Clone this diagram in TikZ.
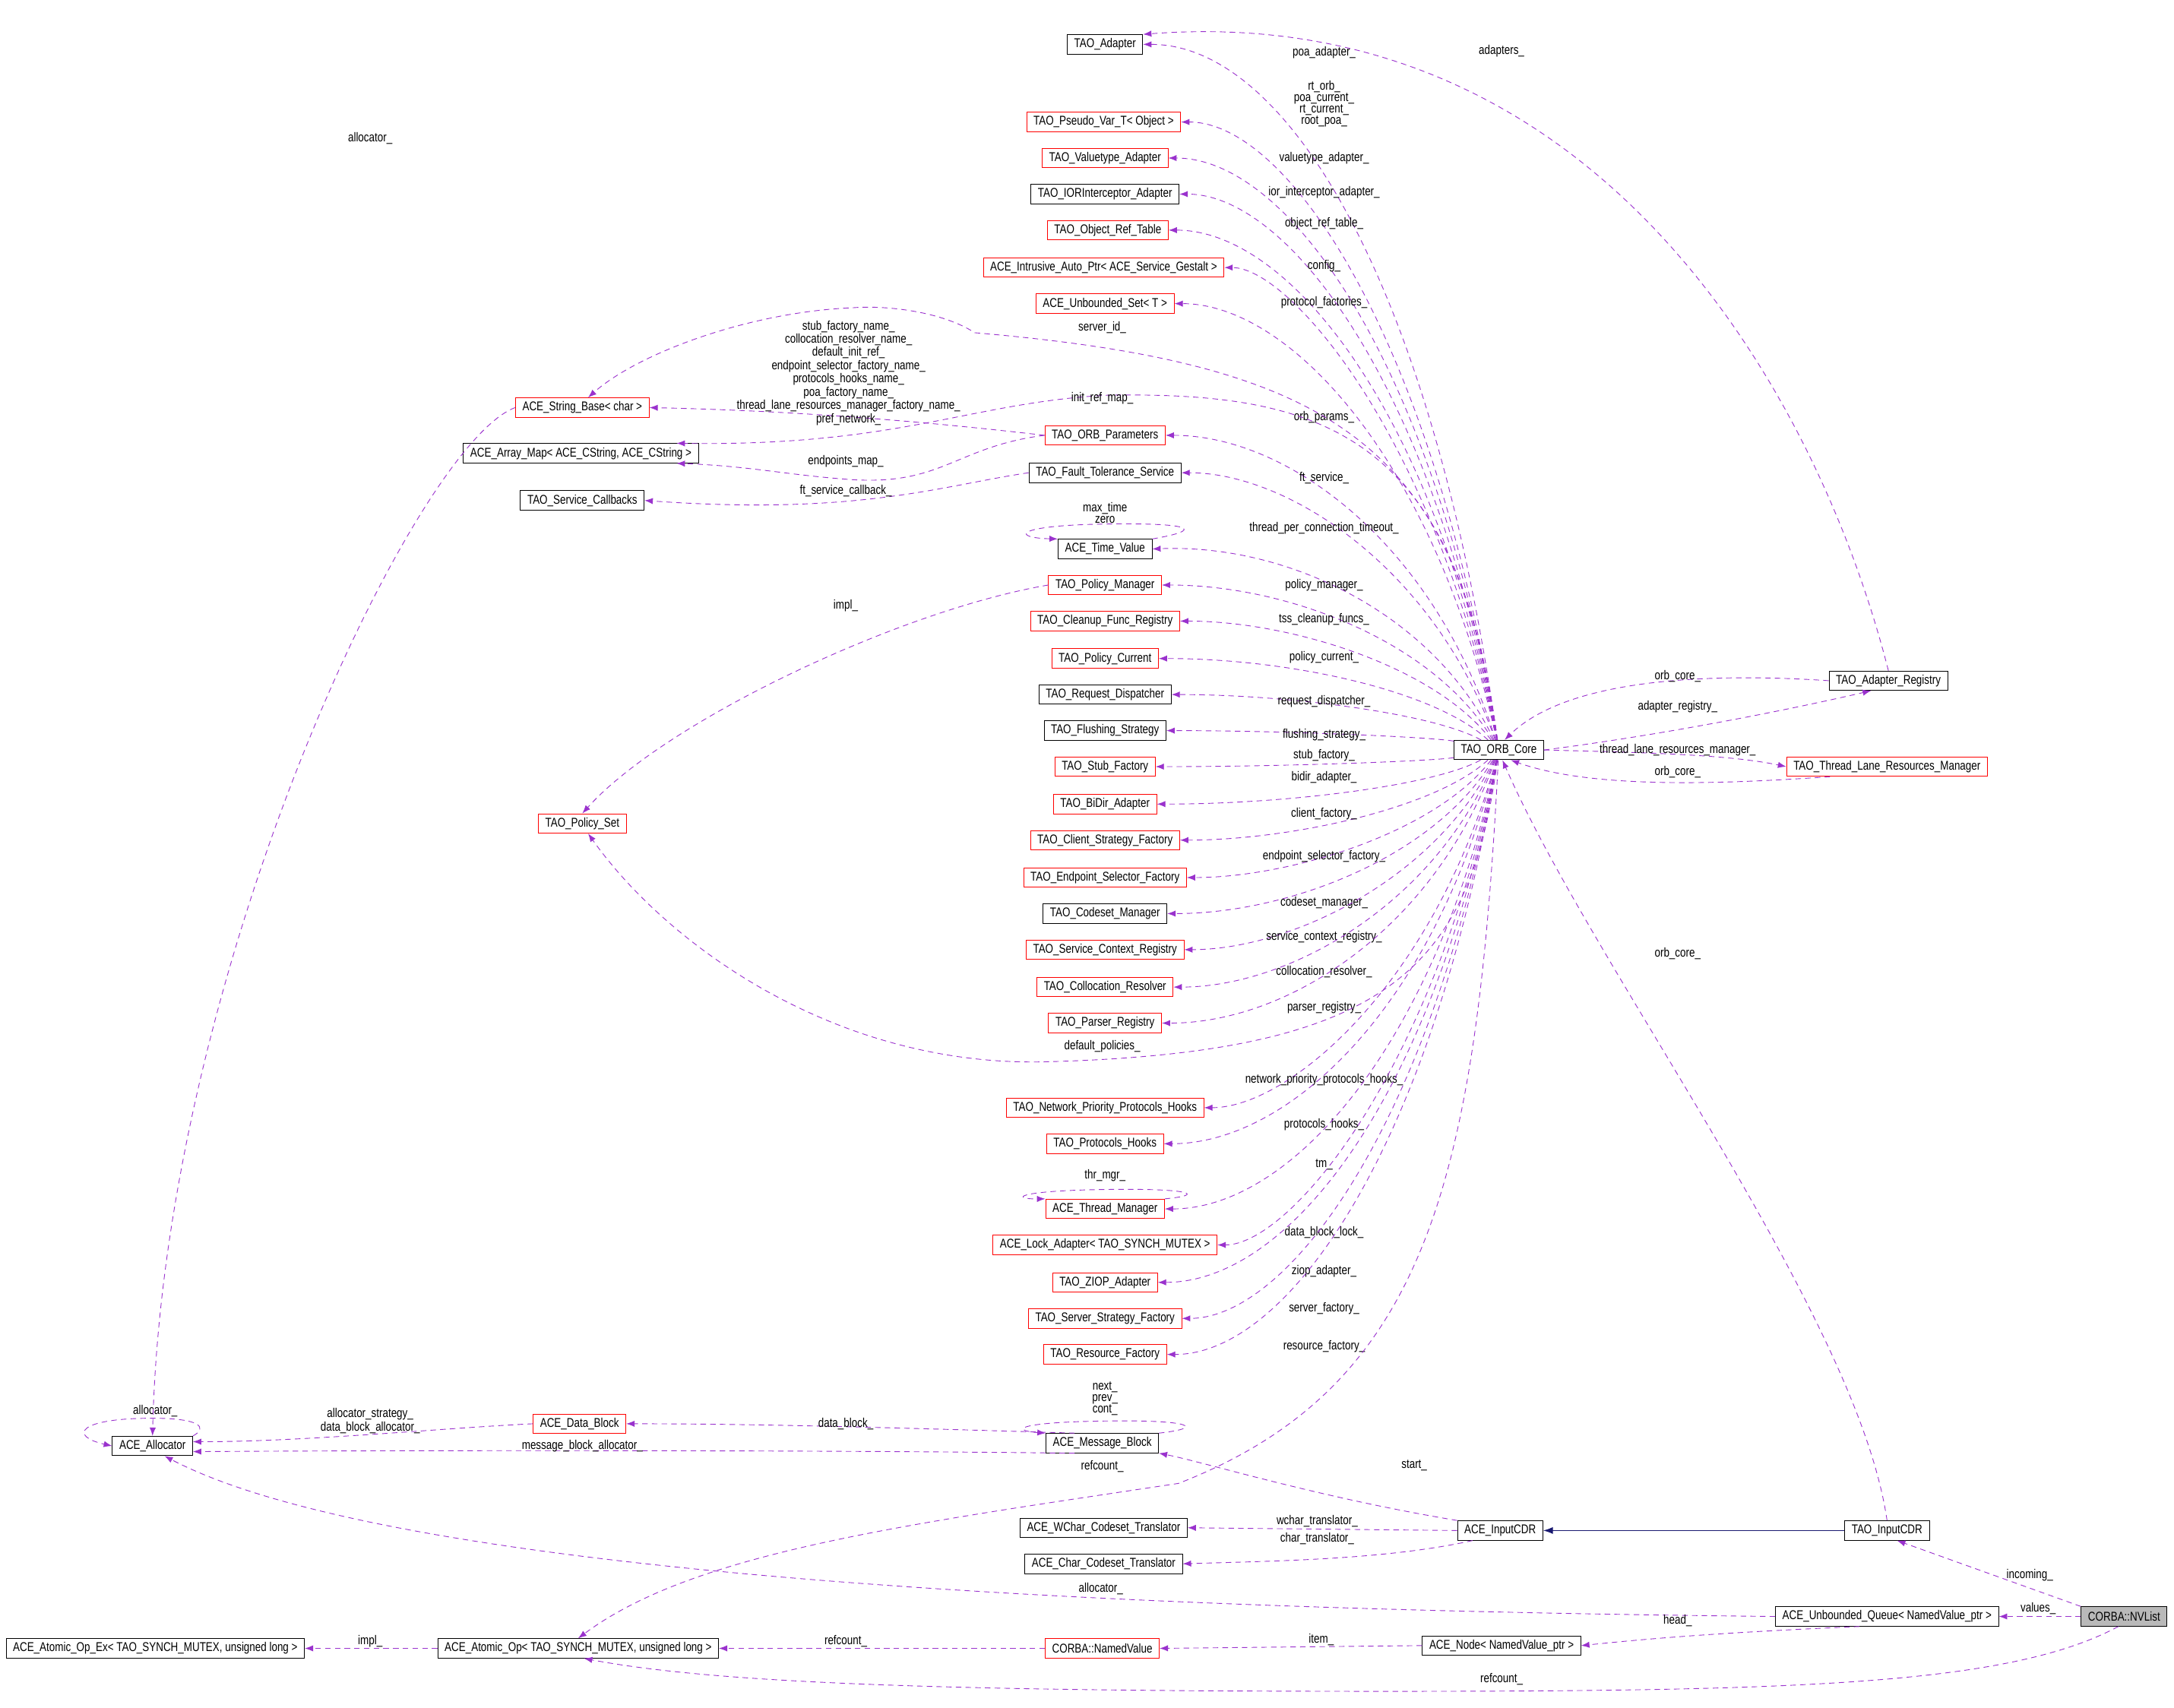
\documentclass[tikz,border=0pt]{standalone}
\usepackage{fontspec}
\setmainfont{Liberation Sans}[FakeStretch=0.8]
\usetikzlibrary{arrows.meta}
\definecolor{pur}{HTML}{9A32CD}
\definecolor{nav}{HTML}{191970}
\tikzset{
 bx/.style={draw=black,line width=0.5pt,minimum height=14pt,inner xsep=5pt,inner ysep=0pt,font=\fontsize{9.2}{8.2}\selectfont},
 rbx/.style={bx,draw=red},
 gbx/.style={bx,fill=gray!55},
 e/.style={draw=pur,dash pattern=on 4pt off 3pt,line width=0.5pt,-{Latex[length=6pt,width=4.5pt]}},
 lbl/.style={inner sep=0pt,align=center,font=\fontsize{9.2}{8.2}\selectfont}
}
\newcommand\ce[4]{\draw[e] (core) .. controls (1035,{#2+(541-#2)*0.35}) and (930,#2) .. (#1.east); \node[lbl] at (955,#3) {#4};}
\begin{document}
\begin{tikzpicture}[x=1pt,y=-1pt]
\useasboundingbox (0,0) rectangle (1568,1232);
% center column
\node[bx] (ta) at (797,32) {TAO\_Adapter};
\node[rbx] (pv) at (796,88) {TAO\_Pseudo\_Var\_T< Object >};
\node[rbx] (va) at (797,114) {TAO\_Valuetype\_Adapter};
\node[bx] (ior) at (797,140) {TAO\_IORInterceptor\_Adapter};
\node[rbx] (ort) at (799,166) {TAO\_Object\_Ref\_Table};
\node[rbx] (iap) at (796,193) {ACE\_Intrusive\_Auto\_Ptr< ACE\_Service\_Gestalt >};
\node[rbx] (us) at (797,219) {ACE\_Unbounded\_Set< T >};
\node[rbx] (op) at (797,314) {TAO\_ORB\_Parameters};
\node[bx] (ft) at (797,341) {TAO\_Fault\_Tolerance\_Service};
\node[bx] (tv) at (797,396) {ACE\_Time\_Value};
\node[rbx] (pm) at (797,422) {TAO\_Policy\_Manager};
\node[rbx] (cf) at (797,448) {TAO\_Cleanup\_Func\_Registry};
\node[rbx] (pc) at (797,475) {TAO\_Policy\_Current};
\node[bx] (rd) at (797,501) {TAO\_Request\_Dispatcher};
\node[bx] (fs) at (797,527) {TAO\_Flushing\_Strategy};
\node[rbx] (sf) at (797,553) {TAO\_Stub\_Factory};
\node[rbx] (bd) at (797,580) {TAO\_BiDir\_Adapter};
\node[rbx] (csf) at (797,606) {TAO\_Client\_Strategy\_Factory};
\node[rbx] (esf) at (797,633) {TAO\_Endpoint\_Selector\_Factory};
\node[bx] (cm) at (797,659) {TAO\_Codeset\_Manager};
\node[rbx] (scr) at (797,685) {TAO\_Service\_Context\_Registry};
\node[rbx] (cr) at (797,712) {TAO\_Collocation\_Resolver};
\node[rbx] (pr) at (797,738) {TAO\_Parser\_Registry};
\node[rbx] (npph) at (797,799) {TAO\_Network\_Priority\_Protocols\_Hooks};
\node[rbx] (ph) at (797,825) {TAO\_Protocols\_Hooks};
\node[rbx] (tm) at (797,872) {ACE\_Thread\_Manager};
\node[rbx] (la) at (797,898) {ACE\_Lock\_Adapter< TAO\_SYNCH\_MUTEX >};
\node[rbx] (zi) at (797,925) {TAO\_ZIOP\_Adapter};
\node[rbx] (ssf) at (797,951) {TAO\_Server\_Strategy\_Factory};
\node[rbx] (rf) at (797,977) {TAO\_Resource\_Factory};
\node[bx] (mb) at (795,1041) {ACE\_Message\_Block};
\node[bx] (wc) at (796,1102) {ACE\_WChar\_Codeset\_Translator};
\node[bx] (cc) at (796,1128) {ACE\_Char\_Codeset\_Translator};
\node[rbx] (nvd) at (795,1189) {CORBA::NamedValue};
% left
\node[rbx] (sb) at (420,294) {ACE\_String\_Base< char >};
\node[bx] (am) at (419,327) {ACE\_Array\_Map< ACE\_CString, ACE\_CString >};
\node[bx] (scb) at (420,361) {TAO\_Service\_Callbacks};
\node[rbx] (ps) at (420,594) {TAO\_Policy\_Set};
\node[bx] (al) at (110,1043) {ACE\_Allocator};
\node[rbx] (db) at (418,1027) {ACE\_Data\_Block};
\node[bx] (ao) at (417,1189) {ACE\_Atomic\_Op< TAO\_SYNCH\_MUTEX, unsigned long >};
\node[bx] (aoex) at (112,1189) {ACE\_Atomic\_Op\_Ex< TAO\_SYNCH\_MUTEX, unsigned long >};
% right
\node[bx] (core) at (1081,541) {TAO\_ORB\_Core};
\node[bx] (ar) at (1362,491) {TAO\_Adapter\_Registry};
\node[rbx] (tl) at (1361,553) {TAO\_Thread\_Lane\_Resources\_Manager};
\node[bx] (icdr) at (1082,1104) {ACE\_InputCDR};
\node[bx] (tcdr) at (1361,1104) {TAO\_InputCDR};
\node[bx] (nd) at (1083,1187) {ACE\_Node< NamedValue\_ptr >};
\node[bx] (q) at (1361,1166) {ACE\_Unbounded\_Queue< NamedValue\_ptr >};
\node[gbx] (nv) at (1532,1166) {CORBA::NVList};
% core edges
\ce{ta}{32}{38}{poa\_adapter\_}
\ce{pv}{88}{75}{rt\_orb\_\\poa\_current\_\\rt\_current\_\\root\_poa\_}
\ce{va}{114}{114}{valuetype\_adapter\_}
\ce{ior}{140}{139}{ior\_interceptor\_adapter\_}
\ce{ort}{166}{161}{object\_ref\_table\_}
\ce{iap}{193}{192}{config\_}
\ce{us}{219}{218}{protocol\_factories\_}
\ce{op}{314}{301}{orb\_params\_}
\ce{ft}{341}{345}{ft\_service\_}
\ce{tv}{392}{381}{thread\_per\_connection\_timeout\_}
\ce{pm}{422}{422}{policy\_manager\_}
\ce{cf}{448}{447}{tss\_cleanup\_funcs\_}
\ce{pc}{475}{474}{policy\_current\_}
\ce{rd}{501}{506}{request\_dispatcher\_}
\ce{fs}{527}{530}{flushing\_strategy\_}
\ce{sf}{553}{545}{stub\_factory\_}
\ce{bd}{580}{561}{bidir\_adapter\_}
\ce{csf}{606}{587}{client\_factory\_}
\ce{esf}{633}{618}{endpoint\_selector\_factory\_}
\ce{cm}{659}{651}{codeset\_manager\_}
\ce{scr}{685}{676}{service\_context\_registry\_}
\ce{cr}{712}{701}{collocation\_resolver\_}
\ce{pr}{738}{727}{parser\_registry\_}
\ce{npph}{799}{779}{network\_priority\_protocols\_hooks\_}
\ce{ph}{825}{811}{protocols\_hooks\_}
\ce{tm}{872}{840}{tm\_}
\ce{la}{898}{889}{data\_block\_lock\_}
\ce{zi}{925}{917}{ziop\_adapter\_}
\ce{ssf}{951}{944}{server\_factory\_}
\ce{rf}{977}{971}{resource\_factory\_}
% special edges
\draw[e] (core) .. controls (1050,320) and (960,262) .. (703,240) .. controls (680,225) and (640,220) .. (615,222) .. controls (540,225) and (460,255) .. (sb.60);
\node[lbl] at (795,236) {server\_id\_};
\draw[e] (core) .. controls (1050,310) and (950,283) .. (800,285) .. controls (700,290) and (650,322) .. (am.6);
\node[lbl] at (795,287) {init\_ref\_map\_};
\draw[e] (op.west) .. controls (650,302) and (560,296) .. (sb.east);
\node[lbl] at (612,269) {stub\_factory\_name\_\\collocation\_resolver\_name\_\\default\_init\_ref\_\\endpoint\_selector\_factory\_name\_\\protocols\_hooks\_name\_\\poa\_factory\_name\_\\thread\_lane\_resources\_manager\_factory\_name\_\\pref\_network\_};
\draw[e] (op.west) .. controls (690,322) and (680,350) .. (615,346) .. controls (570,343) and (540,336) .. (am.-6);
\node[lbl] at (610,333) {endpoints\_map\_};
\draw[e] (ft.west) .. controls (680,350) and (620,372) .. (scb.east);
\node[lbl] at (610,354) {ft\_service\_callback\_};
\draw[e] (tv.north east) .. controls (870,382) and (860,377) .. (797,378) .. controls (730,379) and (730,388) .. (tv.north west);
\node[lbl] at (797,370) {max\_time\\zero};
\draw[e] (pm.west) .. controls (650,440) and (480,520) .. (ps.north);
\node[lbl] at (610,437) {impl\_};
\draw[e] (core) .. controls (1060,700) and (1000,760) .. (750,766) .. controls (600,768) and (480,680) .. (ps.-60);
\node[lbl] at (795,755) {default\_policies\_};
\draw[e] (tm.north east) .. controls (870,862) and (860,857) .. (797,858) .. controls (730,859) and (730,865) .. (tm.north west);
\node[lbl] at (797,848) {thr\_mgr\_};
\draw[e] (core) .. controls (1065,850) and (1030,1000) .. (850,1070) .. controls (650,1100) and (500,1120) .. (ao.north);
\node[lbl] at (795,1058) {refcount\_};
\draw[e] (mb.north east) .. controls (870,1030) and (860,1024) .. (797,1025) .. controls (730,1026) and (730,1032) .. (mb.north west);
\node[lbl] at (797,1009) {next\_\\prev\_\\cont\_};
\draw[e] (mb.160) .. controls (650,1030) and (550,1027) .. (db.east);
\node[lbl] at (610,1027) {data\_block\_};
\draw[e] (mb.200) .. controls (600,1046) and (300,1046) .. (al.-8);
\node[lbl] at (420,1043) {message\_block\_allocator\_};
\draw[e] (db.west) .. controls (320,1030) and (220,1040) .. (al.6);
\node[lbl] at (267,1025) {allocator\_strategy\_\\data\_block\_allocator\_};
\draw[e] (al.north east) .. controls (150,1030) and (145,1023) .. (110,1023) .. controls (55,1023) and (50,1036) .. (al.west);
\node[lbl] at (112,1018) {allocator\_};
\draw[e] (sb.west) .. controls (300,320) and (118,700) .. (al.north);
\node[lbl] at (267,100) {allocator\_};
% CDR
\draw[e] (icdr.north west) .. controls (950,1080) and (870,1055) .. (mb.south east);
\node[lbl] at (1020,1057) {start\_};
\draw[e] (icdr.west) -- (wc.east);
\node[lbl] at (950,1097) {wchar\_translator\_};
\draw[e] (icdr.200) .. controls (1000,1125) and (920,1126) .. (cc.east);
\node[lbl] at (950,1110) {char\_translator\_};
\draw[nav,line width=0.6pt,-{Latex[length=7pt,width=5pt]}] (tcdr.west) -- (icdr.east);
\draw[e] (tcdr.north) .. controls (1340,950) and (1150,700) .. (core.-70);
\node[lbl] at (1210,688) {orb\_core\_};
% right
\draw[e] (ar.north) .. controls (1310,280) and (1150,0) .. (ta.north east);
\node[lbl] at (1083,37) {adapters\_};
\draw[e] (ar.west) .. controls (1230,485) and (1130,490) .. (core.60);
\node[lbl] at (1210,488) {orb\_core\_};
\draw[e] (core.east) .. controls (1200,530) and (1290,512) .. (ar.-150);
\node[lbl] at (1210,510) {adapter\_registry\_};
\draw[e] (core.east) .. controls (1200,543) and (1250,545) .. (tl.west);
\node[lbl] at (1210,541) {thread\_lane\_resources\_manager\_};
\draw[e] (tl.-170) .. controls (1250,565) and (1150,570) .. (core.-40);
\node[lbl] at (1210,557) {orb\_core\_};
% bottom
\draw[e] (nv.north west) -- (tcdr.-45);
\node[lbl] at (1464,1136) {incoming\_};
\draw[e] (nv.west) -- (q.east);
\node[lbl] at (1470,1160) {values\_};
\draw[e] (q.west) .. controls (900,1162) and (300,1145) .. (al.-40);
\node[lbl] at (794,1146) {allocator\_};
\draw[e] (q.200) .. controls (1230,1178) and (1180,1183) .. (nd.east);
\node[lbl] at (1210,1169) {head\_};
\draw[e] (nd.west) -- (nvd.east);
\node[lbl] at (953,1183) {item\_};
\draw[e] (nvd.west) -- (ao.east);
\node[lbl] at (610,1184) {refcount\_};
\draw[e] (ao.west) -- (aoex.east);
\node[lbl] at (267,1184) {impl\_};
\draw[e] (nv.-120) .. controls (1450,1215) and (1300,1220) .. (1000,1220) .. controls (700,1220) and (520,1215) .. (ao.-60);
\node[lbl] at (1083,1211) {refcount\_};
\end{tikzpicture}
\end{document}
